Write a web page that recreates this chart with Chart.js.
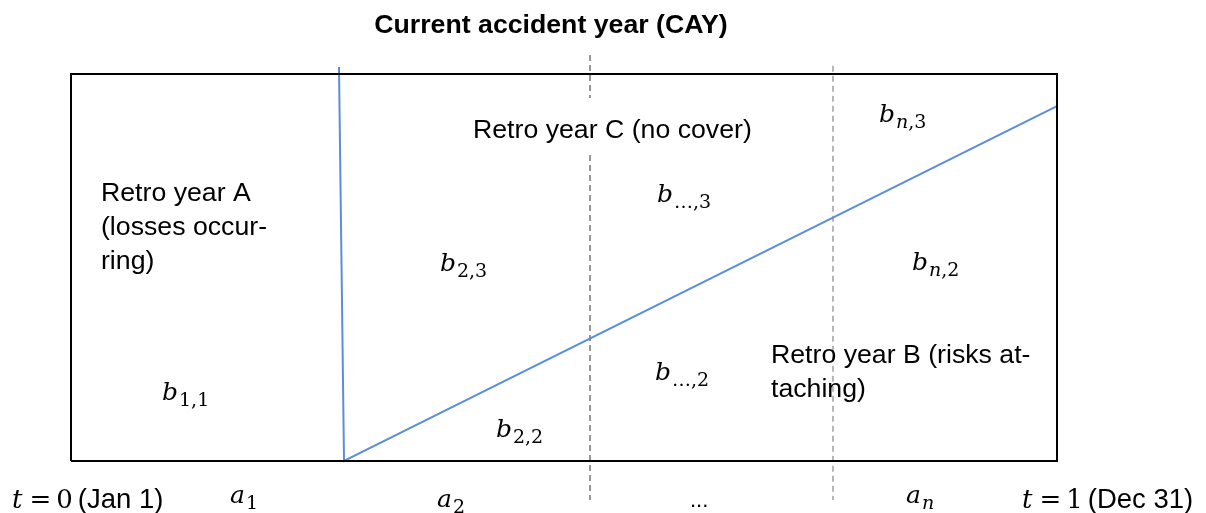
<!DOCTYPE html>
<html>
<head>
<meta charset="utf-8">
<script src="https://cdn.jsdelivr.net/npm/chart.js@4"></script>
<style>
html,body{margin:0;padding:0;background:#fff;}
#wrap{width:1206px;height:513px;}
</style>
</head>
<body>
<div id="wrap"><canvas id="c" width="1206" height="513"></canvas></div>
<script>
// ---- data (x: fraction of the year t, y: development height, box = 0..1) ----
const boxX = [0, 1, 1, 0, 0];
const boxY = [0, 0, 1, 1, 0];
const boundaryX = [0.2718, 0.2769, 1];
const boundaryY = [1.018, 0, 0.917];
const cayLeftX = [0.5264, 0.5264, null, 0.5264, 0.5264];
const cayLeftY = [1.049, 0.938, null, 0.791, -0.101];
const cayRightX = [0.7728, 0.7728];
const cayRightY = [1.021, -0.101];

const titleText = 'Current accident year (CAY)';
const titleX = 0.4868, titleY = 1.105;

const noteLines = [
  ['Retro year A', '(losses occur-', 'ring)'],
  ['Retro year C (no cover)'],
  ['Retro year B (risks at-', 'taching)']
];
const noteX = [0.0304, 0.4077, 0.7099];
const noteY = [0.672, 0.834, 0.253];

const cellSub = ['1,1', '2,3', '2,2', '…,3', '…,2', 'n,3', 'n,2'];
const cellX = [0.0923, 0.3742, 0.4310, 0.5943, 0.5923, 0.8195, 0.8529];
const cellY = [0.157, 0.491, 0.062, 0.669, 0.210, 0.876, 0.493];

const periodSub = ['1', '2', null, 'n'];
const periodX = [0.1613, 0.3712, 0.6278, 0.8469];
const periodY = [-0.108, -0.118, -0.118, -0.108];

const timeVal = ['0', '1'];
const timeDate = ['(Jan 1)', '(Dec 31)'];
const timeX = [-0.0598, 0.9645];
const timeY = [-0.121, -0.121];

// ---- helpers ----
const pts = (xs, ys) => xs.map((x, i) => (x === null ? {x: NaN, y: NaN} : {x, y: ys[i]}));
const SANS = '"Liberation Sans", Arial, sans-serif';
const SERIF = '"DejaVu Serif", "Liberation Serif", serif';

function drawSub(ctx, x, y, base, sub, size) {
  ctx.font = 'italic ' + size + 'px ' + SERIF;
  ctx.fillText(base, x, y);
  x += ctx.measureText(base).width + 1;
  const ss = Math.round(size * 0.74);
  const dy = size * 0.25;
  for (const ch of sub) {
    ctx.font = (/[a-z]/.test(ch) ? 'italic ' : '') + ss + 'px ' + SERIF;
    ctx.fillText(ch, x, y + dy);
    x += ctx.measureText(ch).width;
  }
  return x;
}

const textPlugin = {
  id: 'texts',
  afterDatasetsDraw(chart) {
    const ctx = chart.ctx, sx = chart.scales.x, sy = chart.scales.y;
    const px = v => sx.getPixelForValue(v), py = v => sy.getPixelForValue(v);
    ctx.save();
    ctx.fillStyle = '#000';
    ctx.textBaseline = 'alphabetic';
    // title
    ctx.font = 'bold 26.7px ' + SANS;
    ctx.textAlign = 'center';
    ctx.fillText(titleText, px(titleX), py(titleY));
    ctx.textAlign = 'left';
    // notes
    noteLines.forEach((lines, i) => {
      lines.forEach((ln, j) => {
        ctx.font = '26.7px ' + SANS;
        ctx.fillText(ln, px(noteX[i]), py(noteY[i]) + j * 34);
      });
    });
    // cells
    cellSub.forEach((s, i) => drawSub(ctx, px(cellX[i]), py(cellY[i]), 'b', s, 25));
    // periods
    periodSub.forEach((s, i) => {
      if (s === null) {
        ctx.font = '22px ' + SANS;
        ctx.fillText('...', px(periodX[i]), py(periodY[i]));
      } else {
        drawSub(ctx, px(periodX[i]), py(periodY[i]), 'a', s, 25);
      }
    });
    // time labels
    timeVal.forEach((v, i) => {
      let x = px(timeX[i]); const y = py(timeY[i]);
      ctx.font = 'italic 26px ' + SERIF;
      ctx.fillText('t', x, y); x += ctx.measureText('t').width + 7;
      ctx.font = '26px ' + SERIF;
      ctx.fillText('=', x, y); x += ctx.measureText('=').width + 5;
      ctx.fillText(v, x, y); x += ctx.measureText(v).width + 5;
      ctx.font = '27.5px ' + SANS;
      ctx.fillText(timeDate[i], x, y);
    });
    ctx.restore();
  }
};

new Chart(document.getElementById('c'), {
  type: 'scatter',
  data: {
    datasets: [
      {data: pts(boxX, boxY), showLine: true, borderColor: '#000', borderWidth: 2, pointRadius: 0, spanGaps: false},
      {data: pts(boundaryX, boundaryY), showLine: true, borderColor: '#5B8DD8', borderWidth: 2, pointRadius: 0},
      {data: pts(cayLeftX, cayLeftY), showLine: true, borderColor: '#7F7F7F', borderWidth: 1.6, borderDash: [6, 4], pointRadius: 0, spanGaps: false},
      {data: pts(cayRightX, cayRightY), showLine: true, borderColor: '#A6A6A6', borderWidth: 1.6, borderDash: [6, 4], pointRadius: 0}
    ]
  },
  options: {
    responsive: false,
    animation: false,
    layout: {padding: 0},
    plugins: {legend: {display: false}, tooltip: {enabled: false}},
    scales: {
      x: {type: 'linear', display: false, min: -71 / 986, max: (1206 - 71) / 986},
      y: {type: 'linear', display: false, min: (461 - 513) / 387, max: 461 / 387}
    }
  },
  plugins: [textPlugin]
});
</script>
</body>
</html>
